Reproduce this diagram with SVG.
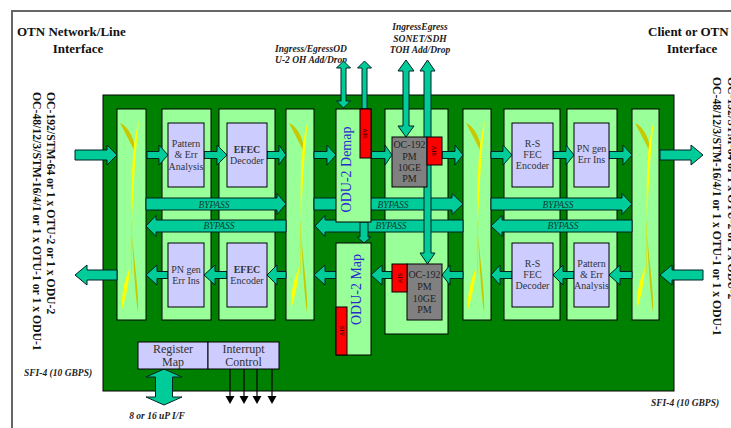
<svg xmlns="http://www.w3.org/2000/svg" xmlns:xlink="http://www.w3.org/1999/xlink" width="731" height="428" viewBox="0 0 731 428">
<style>
.t{font-family:"Liberation Serif","Times New Roman",serif}
.title{font-size:13px;font-weight:bold;fill:#111}
.side{font-size:11.7px;font-weight:bold;fill:#111}
.lbl{font-size:9.5px;font-weight:bold;font-style:italic;fill:#222}
.col{fill:#99ff99;stroke:#000;stroke-width:1}
.blk{fill:#ccccff;stroke:#000;stroke-width:1}
.btx{font-size:10px;fill:#333;text-anchor:middle}
.gray{fill:#808080;stroke:#000;stroke-width:1}
.gtx{font-size:10px;fill:#222;text-anchor:middle}
.ais{fill:#ff0000;stroke:#000;stroke-width:1}
.aistx{font-size:6.5px;fill:#000;text-anchor:middle}
.odu{font-size:14px;fill:#2a2ad0;text-anchor:middle}
.arr{fill:#00cc99;stroke:#022;stroke-width:1}
.byp{font-size:9.5px;font-style:italic;fill:#0b3b33;text-anchor:middle}
.reg{font-size:12px;fill:#333;text-anchor:middle}
</style>
<defs>
<g id="swirl">
<path d="M3,14 C12,18 18,30 19,46 C15,36 9,26 3,14 Z" fill="#c8c800"/>
<path d="M22,12 C16,30 14,60 15,112 C17,70 19,35 22,12 Z" fill="#ffff00"/>
<path d="M15,112 C14,130 14,150 15,165" fill="none" stroke="#e0e000" stroke-width="0.7"/>
<path d="M5,200 C4,185 8,170 13,158 C12,175 9,188 5,200 Z" fill="#ffff00"/>
<path d="M21,203 C19,188 17,168 15,125 C18,160 22,185 21,203 Z" fill="#c8c800"/>
</g>
</defs>
<rect x="0" y="0" width="731" height="428" fill="#fff"/>
<path d="M12,428 V11 H731" fill="none" stroke="#666" stroke-width="2"/>

<g id="labels" class="t">
<text class="title" x="17" y="36">OTN Network/Line</text>
<text class="title" x="78" y="53" text-anchor="middle">Interface</text>
<text class="title" x="648" y="36">Client or OTN</text>
<text class="title" x="692" y="53" text-anchor="middle">Interface</text>
<text class="side" transform="translate(47,92) rotate(90)">OC-192/STM-64 or 1 x OTU-2 or 1 x ODU-2</text>
<text class="side" transform="translate(33,92) rotate(90)">OC-48/12/3/STM-16/4/1 or 1 x OTU-1 or 1 x ODU-1</text>
<text class="side" transform="translate(728,77) rotate(90)">OC-192/STM-64 or 1 x OTU-2 or 1 x ODU-2</text>
<text class="side" transform="translate(713,77) rotate(90)">OC-48/12/3/STM-16/4/1 or 1 x OTU-1 or 1 x ODU-1</text>
<text class="lbl" x="311" y="52" text-anchor="middle">Ingress/EgressOD</text>
<text class="lbl" x="311" y="63" text-anchor="middle">U-2 OH Add/Drop</text>
<text class="lbl" x="420" y="30" text-anchor="middle">IngressEgress</text>
<text class="lbl" x="420" y="42" text-anchor="middle">SONET/SDH</text>
<text class="lbl" x="420" y="53" text-anchor="middle">TOH Add/Drop</text>
<text class="lbl" x="24" y="376" font-size="9px">SFI-4 (10 GBPS)</text>
<text class="lbl" x="651" y="406" font-size="9px">SFI-4 (10 GBPS)</text>
<text class="lbl" x="157" y="419" text-anchor="middle">8 or 16 uP I/F</text>
</g>

<g id="board"><rect x="103" y="95" width="571" height="296" fill="#008000" stroke="#000" stroke-width="1"/></g>

<g id="muxA"><rect class="col" x="117" y="109" width="29" height="211"/><use href="#swirl" xlink:href="#swirl" transform="translate(117,109)"/></g>
<g id="colB"><rect class="col" x="162" y="109" width="49" height="211"/></g>
<g id="colC"><rect class="col" x="219" y="109" width="56" height="211"/></g>
<g id="muxD"><rect class="col" x="286" y="109" width="28" height="211"/><use href="#swirl" xlink:href="#swirl" transform="translate(286,109)"/></g>
<g id="colOC"><rect class="col" x="385" y="109" width="63" height="225"/></g>
<g id="muxE"><rect class="col" x="463" y="109" width="28" height="211"/><use href="#swirl" xlink:href="#swirl" transform="translate(463,109)"/></g>
<g id="colF"><rect class="col" x="504" y="109" width="56" height="211"/></g>
<g id="colG"><rect class="col" x="567" y="109" width="50" height="211"/></g>
<g id="muxH"><rect class="col" x="632" y="109" width="27" height="211"/><use href="#swirl" xlink:href="#swirl" transform="translate(632,109)"/></g>

<g id="connectors">
<g class="arr">
<path d="M146,198 H277 V193.5 L286,204 L277,214.5 V210 H146 Z"/>
<path d="M314,198 H452 V193.5 L463,204 L452,214.5 V210 H314 Z"/>
<path d="M491,198 H622 V193.5 L632,204 L622,214.5 V210 H491 Z"/>
<path d="M286,220 H156 V215.5 L146,226 L156,236.5 V232 H286 Z"/>
<path d="M463,220 H325 V215.5 L315,226 L325,236.5 V232 H463 Z"/>
<path d="M632,220 H502 V215.5 L491,226 L502,236.5 V232 H632 Z"/>
<path d="M75,150 H107 V145 L117,155 L107,165 V160 H75 Z"/>
<path d="M147,151.5 H159 V145 L168,155 L159,165 V158.5 H147 Z"/>
<path d="M204,151.5 H217 V145 L227,155 L217,165 V158.5 H204 Z"/>
<path d="M267,151.5 H279 V145 L286,155 L279,165 V158.5 H267 Z"/>
<path d="M314,151.5 H327 V145 L336,155 L327,165 V158.5 H314 Z"/>
<path d="M371,151.5 H385 V145 L392,155 L385,165 V158.5 H371 Z"/>
<path d="M442,151.5 H455 V145 L463,155 L455,165 V158.5 H442 Z"/>
<path d="M491,151.5 H503 V145 L512,155 L503,165 V158.5 H491 Z"/>
<path d="M553,151.5 H566 V145 L574,155 L566,165 V158.5 H553 Z"/>
<path d="M609,151.5 H623 V145 L632,155 L623,165 V158.5 H609 Z"/>
<path d="M660,150 H691 V145 L703,155 L691,165 V160 H660 Z"/>
<path d="M703,270 H672 V265 L660,275 L672,285 V280 H703 Z"/>
<path d="M632,271.5 H620 V265 L609,275 L620,285 V278.5 H632 Z"/>
<path d="M574,271.5 H563 V265 L553,275 L563,285 V278.5 H574 Z"/>
<path d="M512,271.5 H500 V265 L491,275 L500,285 V278.5 H512 Z"/>
<path d="M463,271.5 H450 V265 L442,275 L450,285 V278.5 H463 Z"/>
<path d="M392,271.5 H382 V265 L371,275 L382,285 V278.5 H392 Z"/>
<path d="M336,271.5 H325 V265 L314,275 L325,285 V278.5 H336 Z"/>
<path d="M286,271.5 H277 V265 L267,275 L277,285 V278.5 H286 Z"/>
<path d="M227,271.5 H215 V265 L204,275 L215,285 V278.5 H227 Z"/>
<path d="M168,271.5 H157 V265 L146,275 L157,285 V278.5 H168 Z"/>
<path d="M117,270 H87 V265 L75,275 L87,285 V280 H117 Z"/>
<path d="M343.5,61 L350.5,68 H346 V101 H350.5 L343.5,108 L336.5,101 H341 V68 H336.5 Z"/>
<path d="M364.5,61 L371.5,68 H367 V109 H362 V68 H357.5 Z"/>
<path d="M406,60 L414,71 H409 V126 H414 L406,137 L398,126 H403 V71 H398 Z"/>
<path d="M427.5,60 L435,71 H431 V253 H435 L427.5,264 L420,253 H424 V71 H420 Z"/>
<path d="M360,222 H368 V237 H371 L364,243 L357,237 H360 Z"/>
<path d="M164,369 L182,377 H172.5 V397 H182 L164,405 L146,397 H155.5 V377 H146 Z"/>
</g>
<g class="t">
<text class="byp" x="214" y="208">BYPASS</text>
<text class="byp" x="219" y="229">BYPASS</text>
<text class="byp" x="393" y="208">BYPASS</text>
<text class="byp" x="391" y="229">BYPASS</text>
<text class="byp" x="558" y="208">BYPASS</text>
<text class="byp" x="563" y="229">BYPASS</text>
</g>
<g stroke="#000" stroke-width="1.2">
<line x1="230" y1="369" x2="230" y2="397"/>
<line x1="244" y1="369" x2="244" y2="397"/>
<line x1="257" y1="369" x2="257" y2="397"/>
<line x1="272" y1="369" x2="272" y2="397"/>
</g>
<g fill="#000">
<path d="M225.5,396 H234.5 L230,404 Z"/>
<path d="M239.5,396 H248.5 L244,404 Z"/>
<path d="M252.5,396 H261.5 L257,404 Z"/>
<path d="M267.5,396 H276.5 L272,404 Z"/>
</g>
</g>

<g id="odu2Demap" class="t">
<rect class="col" x="336" y="109" width="35" height="113"/>
<rect class="ais" x="360" y="109" width="11" height="49"/>
<text class="aistx" transform="translate(363,133.5) rotate(90)">AIS</text>
<text class="odu" transform="translate(350.5,169.5) rotate(-90)">ODU-2 Demap</text>
</g>
<g id="odu2Map" class="t">
<rect class="col" x="336" y="243" width="35" height="112"/>
<rect class="ais" x="336" y="307" width="11" height="48"/>
<text class="aistx" transform="translate(344,331) rotate(-90)">AIS</text>
<text class="odu" transform="translate(360.5,289.5) rotate(-90)">ODU-2 Map</text>
</g>
<g id="pmTop" class="t">
<rect class="gray" x="392" y="137" width="35" height="50"/>
<rect class="ais" x="427" y="137" width="15" height="28"/>
<text class="aistx" transform="translate(432,151) rotate(90)">AIS</text>
<text class="gtx" x="409.5" y="148">OC-192</text>
<text class="gtx" x="409.5" y="160">PM</text>
<text class="gtx" x="409.5" y="171">10GE</text>
<text class="gtx" x="409.5" y="182">PM</text>
</g>
<g id="pmBot" class="t">
<rect class="gray" x="407" y="264" width="35" height="56"/>
<rect class="ais" x="392" y="264" width="15" height="28"/>
<text class="aistx" transform="translate(402,278) rotate(-90)">AIS</text>
<text class="gtx" x="424.5" y="278">OC-192</text>
<text class="gtx" x="424.5" y="290">PM</text>
<text class="gtx" x="424.5" y="302">10GE</text>
<text class="gtx" x="424.5" y="313">PM</text>
</g>

<g id="patternTop" class="t">
<rect class="blk" x="168" y="123" width="36" height="64"/>
<text class="btx" x="186" y="147">Pattern</text>
<text class="btx" x="186" y="158">&amp; Err</text>
<text class="btx" x="186" y="169.5">Analysis</text>
</g>
<g id="efecDecoder" class="t">
<rect class="blk" x="227" y="123" width="40" height="64"/>
<text class="btx" x="247" y="153" font-weight="bold">EFEC</text>
<text class="btx" x="247" y="164">Decoder</text>
</g>
<g id="rsEncoder" class="t">
<rect class="blk" x="512" y="123" width="41" height="64"/>
<text class="btx" x="532.5" y="147">R-S</text>
<text class="btx" x="532.5" y="158">FEC</text>
<text class="btx" x="532.5" y="169">Encoder</text>
</g>
<g id="pnGenTop" class="t">
<rect class="blk" x="574" y="123" width="35" height="64"/>
<text class="btx" x="591.5" y="152">PN gen</text>
<text class="btx" x="591.5" y="163">Err Ins</text>
</g>
<g id="pnGenBot" class="t">
<rect class="blk" x="168" y="243" width="36" height="64"/>
<text class="btx" x="186" y="273">PN gen</text>
<text class="btx" x="186" y="284">Err Ins</text>
</g>
<g id="efecEncoder" class="t">
<rect class="blk" x="227" y="243" width="40" height="64"/>
<text class="btx" x="247" y="273" font-weight="bold">EFEC</text>
<text class="btx" x="247" y="284">Encoder</text>
</g>
<g id="rsDecoder" class="t">
<rect class="blk" x="512" y="243" width="41" height="64"/>
<text class="btx" x="532.5" y="267">R-S</text>
<text class="btx" x="532.5" y="278">FEC</text>
<text class="btx" x="532.5" y="289">Decoder</text>
</g>
<g id="patternBot" class="t">
<rect class="blk" x="574" y="243" width="35" height="64"/>
<text class="btx" x="591.5" y="267">Pattern</text>
<text class="btx" x="591.5" y="278">&amp; Err</text>
<text class="btx" x="591.5" y="289">Analysis</text>
</g>
<g id="registerMap" class="t">
<rect class="blk" x="138" y="342" width="70" height="27"/>
<text class="reg" x="173" y="353">Register</text>
<text class="reg" x="173" y="366">Map</text>
</g>
<g id="interruptControl" class="t">
<rect class="blk" x="208" y="342" width="71" height="27"/>
<text class="reg" x="243.5" y="353">Interrupt</text>
<text class="reg" x="243.5" y="366">Control</text>
</g>
</svg>
